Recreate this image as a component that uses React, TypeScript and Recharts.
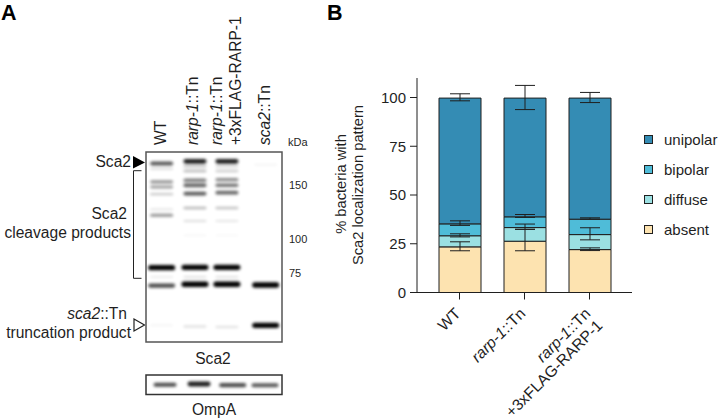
import React from "react";
import { Bar, BarChart, ErrorBar, Legend, Scatter, ScatterChart, XAxis, YAxis } from "recharts";

const FONT = '"Liberation Sans", Arial, sans-serif';
const INK = "#1f1f1f";

// Panel B: stacked localization percentages
const strains = ["WT", "rarp-1::Tn", "rarp-1::Tn +3xFLAG-RARP-1"];
const absent = [23.4, 26.3, 22];
const diffuse = [5.7, 7, 7.7];
const bipolar = [6.1, 5.5, 7.9];
const unipolar = [64.5, 60.9, 62.1];
const absentErr = [[2, 2.6], [4.9, 6.1], [0.5, 0.9]];
const diffuseErr = [[0.6, 1], [0.9, 1.8], [2.7, 3.5]];
const bipolarErr = [[0.8, 1.55], [0.3, 1.2], [0, 0.7]];
const unipolarErr = [[1.4, 2.2], [5.9, 6.5], [2.3, 2.9]];
const yTicks = [0, 25, 50, 75, 100];

const stackData = strains.map((name, i) => ({
  name,
  absent: absent[i],
  diffuse: diffuse[i],
  bipolar: bipolar[i],
  unipolar: unipolar[i],
  absentErr: absentErr[i],
  diffuseErr: diffuseErr[i],
  bipolarErr: bipolarErr[i],
  unipolarErr: unipolarErr[i],
}));

const colors = { absent: "#fde3b0", diffuse: "#9be0e2", bipolar: "#4fbcd8", unipolar: "#348cb4" };

// Panel A: blot bands, migration is % of the blot height, intensity 0-1
const laneX = [0.46, 1.44, 2.38, 3.52];
const wtMigration = [6, 8.8, 15.7, 18.4, 22.2, 30.2, 33.3, 60.9, 65.8, 70.3, 91.2];
const wtIntensity = [0.65, 0.15, 0.42, 0.38, 0.22, 0.12, 0.42, 1, 0.08, 0.7, 0.05];
const rarpMigration = [4.9, 7.5, 10, 14.9, 17.5, 21.9, 29.5, 36.3, 43.9, 60.7, 65.8, 69.6, 91.8];
const rarpIntensity = [0.88, 0.22, 0.28, 0.5, 0.6, 0.65, 0.28, 0.14, 0.04, 1, 0.12, 1, 0.15];
const flagMigration = [4.9, 7.5, 10, 14.6, 17.5, 21.4, 29.5, 36.3, 43.9, 60.7, 65.8, 69.6, 92.1];
const flagIntensity = [0.88, 0.18, 0.2, 0.46, 0.55, 0.6, 0.24, 0.1, 0.03, 1, 0.12, 1, 0.13];
const scaMigration = [6.6, 70, 91.2];
const scaIntensity = [0.05, 1, 1];

const sca2Bands = [
  [wtMigration, wtIntensity],
  [rarpMigration, rarpIntensity],
  [flagMigration, flagIntensity],
  [scaMigration, scaIntensity],
].flatMap(([migration, intensity], lane) =>
  migration.map((m, i) => ({ lane: laneX[lane], migration: m, intensity: intensity[i] }))
);

const ompaLaneX = [0.56, 1.56, 2.55, 3.5];
const ompaMigration = [50, 46, 52, 52];
const ompaIntensity = [0.7, 0.88, 0.7, 0.65];
const ompaBands = ompaLaneX.map((lane, i) => ({ lane, migration: ompaMigration[i], intensity: ompaIntensity[i] }));

const BandShape = (props: any) => {
  const { cx, cy, payload } = props;
  const h = 1.5 + 3.8 * payload.intensity;
  const w = payload.migration > 50 && payload.intensity > 0.5 ? 27 : 23;
  return (
    <rect
      x={cx - w / 2}
      y={cy - h / 2}
      width={w}
      height={h}
      rx={h / 2}
      fill="#000"
      opacity={payload.intensity}
      style={{ filter: "blur(1.5px)" }}
    />
  );
};

const Blot = ({ data, left, top, width, height }: any) => (
  <div style={{ position: "absolute", left, top, width, height }}>
    <ScatterChart width={width} height={height} margin={{ top: 0, right: 0, bottom: 0, left: 0 }}>
      <XAxis hide type="number" dataKey="lane" domain={[0, 4]} />
      <YAxis hide type="number" dataKey="migration" domain={[0, 100]} reversed />
      <Scatter data={data} shape={BandShape} isAnimationActive={false} />
    </ScatterChart>
  </div>
);

const StrainTick = ({ x, y, payload }: any) => {
  const [first, second] = String(payload.value).split(" ");
  const [gene, rest] = first.startsWith("rarp") ? ["rarp-1", "::Tn"] : ["", first];
  return (
    <g transform={`translate(${x + 2},${y + 13}) rotate(-45)`}>
      <text textAnchor="end" fontFamily={FONT} fontSize={15.7} fill={INK}>
        <tspan fontStyle="italic">{gene}</tspan>
        {rest}
        {second && (
          <tspan x={0} dy={17}>
            {second}
          </tspan>
        )}
      </text>
    </g>
  );
};

const SeriesLegend = ({ payload }: any) => (
  <div style={{ fontFamily: FONT, fontSize: 15, color: INK }}>
    {[...(payload || [])].reverse().map((item: any) => (
      <div key={item.value} style={{ display: "flex", alignItems: "center", height: 30 }}>
        <span
          style={{
            width: 7,
            height: 7,
            marginRight: 11,
            background: item.color,
            border: `1px solid ${INK}`,
          }}
        />
        {item.value}
      </div>
    ))}
  </div>
);

const series = ["absent", "diffuse", "bipolar", "unipolar"] as const;

const Annotations = () => {
  const txt = { fontFamily: FONT, fontSize: 15.6, fill: INK };
  return (
    <svg width={720} height={420} style={{ position: "absolute", left: 0, top: 0, pointerEvents: "none" }}>
      <text x={1} y={20} fontFamily={FONT} fontSize={21.5} fontWeight="bold" fill="#000">A</text>
      <text x={327} y={20} fontFamily={FONT} fontSize={21.5} fontWeight="bold" fill="#000">B</text>

      <g {...txt}>
        <text transform="translate(166,145) rotate(-90)">WT</text>
        <text transform="translate(198,145) rotate(-90)"><tspan fontStyle="italic">rarp-1</tspan>::Tn</text>
        <text transform="translate(222,145) rotate(-90)"><tspan fontStyle="italic">rarp-1</tspan>::Tn</text>
        <text transform="translate(241,145) rotate(-90)">+3xFLAG-RARP-1</text>
        <text transform="translate(270,145) rotate(-90)"><tspan fontStyle="italic">sca2</tspan>::Tn</text>

        <text x={131} y={167} textAnchor="end">Sca2</text>
        <text x={127} y={219} textAnchor="end">Sca2</text>
        <text x={131} y={238} textAnchor="end">cleavage products</text>
        <text x={127} y={319} textAnchor="end"><tspan fontStyle="italic">sca2</tspan>::Tn</text>
        <text x={131} y={338} textAnchor="end">truncation product</text>
        <text x={213} y={364} textAnchor="middle">Sca2</text>
        <text x={214} y={415} textAnchor="middle">OmpA</text>

        <text transform="translate(346,184) rotate(-90)" textAnchor="middle" fontSize={14.7}>% bacteria with</text>
        <text transform="translate(363,185) rotate(-90)" textAnchor="middle" fontSize={14.7}>Sca2 localization pattern</text>
      </g>

      <g fontFamily={FONT} fontSize={11} fill={INK}>
        <text x={288} y={146}>kDa</text>
        <text x={289} y={189}>150</text>
        <text x={289} y={243}>100</text>
        <text x={289} y={277}>75</text>
      </g>

      <polygon points="133,156 145,162.5 133,168.5" fill="#000" />
      <polygon points="134,319 144.5,325 134,331" fill="#fff" stroke="#222" strokeWidth={1.2} />
      <path d="M141.5,170.7 H133.5 V278.3 H141.5" fill="none" stroke="#222" strokeWidth={1} />

      <rect x={146} y={152} width={136} height={190} fill="none" stroke="#555" strokeWidth={1.5} />
      <rect x={146} y={375} width={136} height={19.5} fill="none" stroke="#333" strokeWidth={1.5} />
    </svg>
  );
};

export default function App() {
  return (
    <div style={{ position: "absolute", left: 0, top: 0, width: 720, height: 420, background: "#fff", overflow: "hidden" }}>
      <Blot data={sca2Bands} left={146} top={152} width={136} height={190} />
      <Blot data={ompaBands} left={146} top={375} width={136} height={19.5} />

      <div style={{ position: "absolute", left: 0, top: 0 }}>
        <BarChart
          width={720}
          height={420}
          data={stackData}
          barSize={42}
          margin={{ top: 78, right: 88, bottom: 0, left: 357 }}
        >
          <XAxis
            dataKey="name"
            height={127.5}
            interval={0}
            padding={{ left: 10, right: 10 }}
            stroke={INK}
            tickSize={7}
            tick={<StrainTick />}
          />
          <YAxis
            width={60}
            domain={[0, 110]}
            ticks={yTicks}
            stroke={INK}
            tickSize={7}
            tickMargin={4}
            tick={{ fontFamily: FONT, fontSize: 15, fill: INK }}
          />
          <Legend
            layout="vertical"
            align="center"
            verticalAlign="middle"
            itemSorter={null}
            wrapperStyle={{ left: 644, top: 124, width: 76 }}
            content={<SeriesLegend />}
          />
          {series.map((key) => (
            <Bar key={key} dataKey={key} stackId="a" fill={colors[key]} stroke={INK} strokeWidth={1} isAnimationActive={false}>
              <ErrorBar dataKey={`${key}Err`} direction="y" width={10} stroke={INK} strokeWidth={1} isAnimationActive={false} />
            </Bar>
          ))}
        </BarChart>
      </div>

      <Annotations />
    </div>
  );
}
